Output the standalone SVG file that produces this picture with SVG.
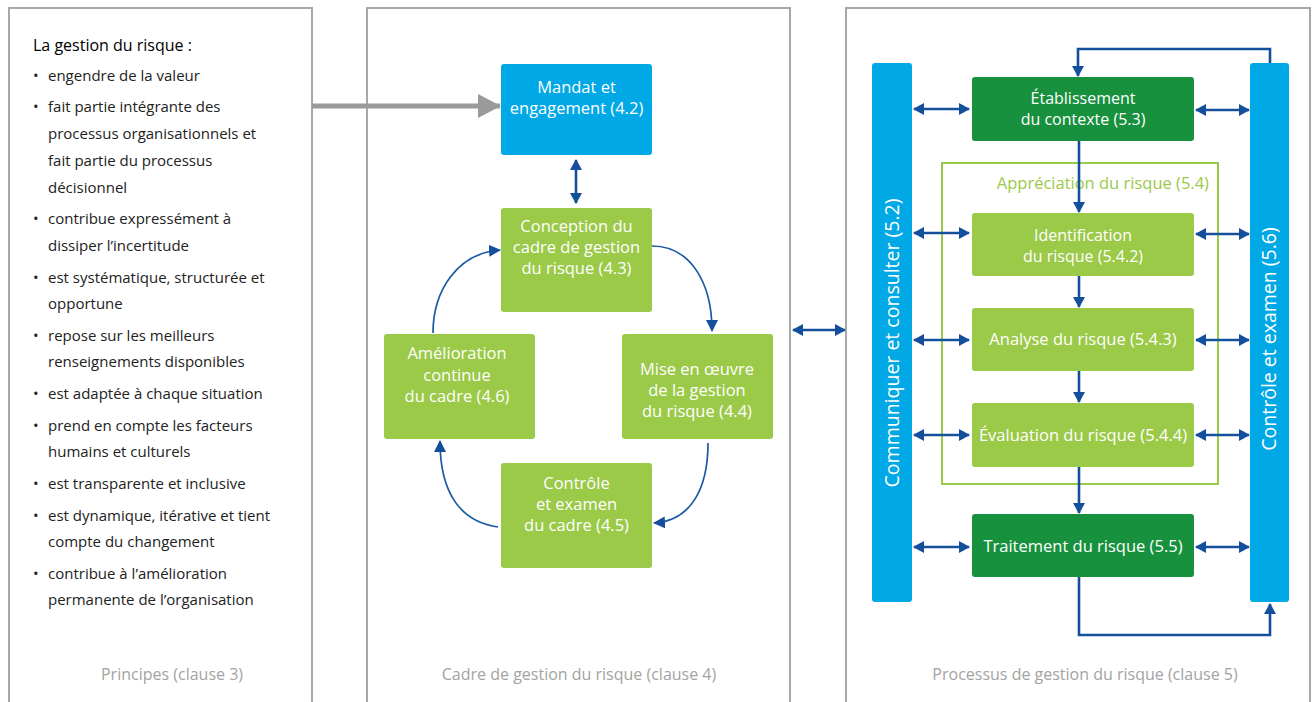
<svg xmlns="http://www.w3.org/2000/svg" width="1315" height="702" viewBox="0 0 1315 702">
<style>
.panel{fill:#fff;stroke:#a8a8a8;stroke-width:2}
.foot{font-family:"Open Sans","Noto Sans",sans-serif;font-size:16px;fill:#a3a3a3;text-anchor:middle}
.lt{font-family:"Open Sans","Noto Sans",sans-serif;font-size:15px;fill:#222}
.ttl{font-family:"Open Sans","Noto Sans",sans-serif;font-size:16px;fill:#000}
.bt{font-family:"Open Sans","Noto Sans",sans-serif;font-size:16.5px;fill:#fff;text-anchor:middle}
.bt2{font-family:"Open Sans","Noto Sans",sans-serif;font-size:16px;fill:#fff;text-anchor:middle}
.vt{font-family:"Open Sans","Noto Sans",sans-serif;font-size:19.5px;fill:#fff;text-anchor:middle}
.blue{fill:#00a8e6}
.lg{fill:#9bc948}
.dg{fill:#17913d}
.con{fill:none;stroke:#144f9c;stroke-width:2.6}
.cur{fill:none;stroke:#1a5aa4;stroke-width:1.7}
</style>
<defs>
<marker id="ah" markerUnits="userSpaceOnUse" markerWidth="11" markerHeight="12" refX="10" refY="6" orient="auto-start-reverse" viewBox="0 0 11 12">
<path d="M0,0 L11,6 L0,12 z" fill="#144f9c"/>
</marker>
<marker id="ahc" markerUnits="userSpaceOnUse" markerWidth="12" markerHeight="12" refX="11" refY="6" orient="auto" viewBox="0 0 12 12">
<path d="M0,0 L12,6 L0,12 z" fill="#144f9c"/>
</marker>
<marker id="ahg" markerUnits="userSpaceOnUse" markerWidth="23" markerHeight="24" refX="22" refY="12" orient="auto" viewBox="0 0 23 24">
<path d="M0,0 L23,12 L0,24 z" fill="#9a9a9a"/>
</marker>
</defs>

<g id="panels">
<path class="panel" d="M9,704 V8 H312 V704"/>
<path class="panel" d="M367,704 V8 H790 V704"/>
<path class="panel" d="M846,704 V8 H1310 V704"/>
</g>

<g id="principes">
<text class="ttl" x="33" y="51">La gestion du risque :</text>
<g class="lt">
<text x="33" y="81">•</text><text x="48" y="81">engendre de la valeur</text>
<text x="33" y="112">•</text><text x="48" y="112">fait partie intégrante des</text>
<text x="48" y="139">processus organisationnels et</text>
<text x="48" y="166">fait partie du processus</text>
<text x="48" y="193">décisionnel</text>
<text x="33" y="224">•</text><text x="48" y="224">contribue expressément à</text>
<text x="48" y="251">dissiper l’incertitude</text>
<text x="33" y="283">•</text><text x="48" y="283">est systématique, structurée et</text>
<text x="48" y="309">opportune</text>
<text x="33" y="341">•</text><text x="48" y="341">repose sur les meilleurs</text>
<text x="48" y="367">renseignements disponibles</text>
<text x="33" y="399">•</text><text x="48" y="399">est adaptée à chaque situation</text>
<text x="33" y="431">•</text><text x="48" y="431">prend en compte les facteurs</text>
<text x="48" y="457">humains et culturels</text>
<text x="33" y="489">•</text><text x="48" y="489">est transparente et inclusive</text>
<text x="33" y="521">•</text><text x="48" y="521">est dynamique, itérative et tient</text>
<text x="48" y="547">compte du changement</text>
<text x="33" y="579">•</text><text x="48" y="579">contribue à l’amélioration</text>
<text x="48" y="605">permanente de l’organisation</text>
</g>
<text class="foot" x="172" y="680">Principes (clause 3)</text>
</g>

<g id="cadre-label"><text class="foot" x="579" y="680">Cadre de gestion du risque (clause 4)</text></g>
<g id="processus-label"><text class="foot" x="1085" y="680">Processus de gestion du risque (clause 5)</text></g>

<g id="mandat">
<rect class="blue" x="501" y="64" width="151" height="91" rx="3"/>
<text class="bt" x="576.5" y="93">Mandat et</text>
<text class="bt" x="576.5" y="114">engagement (4.2)</text>
</g>
<g id="conception">
<rect class="lg" x="501" y="208" width="151" height="104" rx="3"/>
<text class="bt" x="576.5" y="232">Conception du</text>
<text class="bt" x="576.5" y="253">cadre de gestion</text>
<text class="bt" x="576.5" y="274">du risque (4.3)</text>
</g>
<g id="amelioration">
<rect class="lg" x="384" y="334" width="151" height="105" rx="3"/>
<text class="bt" x="457" y="359">Amélioration</text>
<text class="bt" x="457" y="381">continue</text>
<text class="bt" x="457" y="402">du cadre (4.6)</text>
</g>
<g id="mise">
<rect class="lg" x="622" y="334" width="151" height="105" rx="3"/>
<text class="bt" x="697" y="375">Mise en œuvre</text>
<text class="bt" x="697" y="396">de la gestion</text>
<text class="bt" x="697" y="417">du risque (4.4)</text>
</g>
<g id="controle">
<rect class="lg" x="501" y="463" width="151" height="105" rx="3"/>
<text class="bt" x="576.5" y="489">Contrôle</text>
<text class="bt" x="576.5" y="510">et examen</text>
<text class="bt" x="576.5" y="531">du cadre (4.5)</text>
</g>

<g id="communiquer">
<rect class="blue" x="872" y="63" width="40" height="539" rx="3"/>
<text class="vt" transform="translate(899,343) rotate(-90)">Communiquer et consulter (5.2)</text>
</g>
<g id="controle-examen">
<rect class="blue" x="1250" y="63" width="39" height="539" rx="3"/>
<text class="vt" transform="translate(1276,339) rotate(-90)">Contrôle et examen (5.6)</text>
</g>
<g id="appreciation">
<rect x="942" y="163" width="276" height="321" fill="none" stroke="#9bc948" stroke-width="2"/>
<text x="1209" y="189" font-family="'Open Sans','Noto Sans',sans-serif" font-size="16.5" fill="#9bc948" text-anchor="end">Appréciation du risque (5.4)</text>
</g>
<g id="etablissement">
<rect class="dg" x="972" y="77" width="222" height="64" rx="3"/>
<text class="bt2" x="1083" y="104">Établissement</text>
<text class="bt2" x="1083" y="125">du contexte (5.3)</text>
</g>
<g id="identification">
<rect class="lg" x="972" y="213" width="222" height="63" rx="3"/>
<text class="bt2" x="1083" y="241">Identification</text>
<text class="bt2" x="1083" y="262">du risque (5.4.2)</text>
</g>
<g id="analyse">
<rect class="lg" x="972" y="308" width="222" height="63" rx="3"/>
<text class="bt" x="1083" y="345">Analyse du risque (5.4.3)</text>
</g>
<g id="evaluation">
<rect class="lg" x="972" y="403" width="222" height="64" rx="3"/>
<text class="bt" x="1083" y="441">Évaluation du risque (5.4.4)</text>
</g>
<g id="traitement">
<rect class="dg" x="972" y="514" width="222" height="63" rx="3"/>
<text class="bt" x="1083" y="552">Traitement du risque (5.5)</text>
</g>

<g id="connectors">
<line x1="312" y1="106" x2="500" y2="106" stroke="#9a9a9a" stroke-width="5" marker-end="url(#ahg)"/>
<line class="con" x1="576" y1="160" x2="576" y2="203" marker-start="url(#ah)" marker-end="url(#ah)"/>
<path class="cur" d="M652,246 C690,246 712,282 712,331" marker-end="url(#ahc)"/>
<path class="cur" d="M708,443 C708,490 690,521 654,523" marker-end="url(#ahc)"/>
<path class="cur" d="M498,527 C462,522 440,495 440,441" marker-end="url(#ahc)"/>
<path class="cur" d="M433,333 C433,290 458,253 500,250" marker-end="url(#ahc)"/>
<line class="con" x1="793" y1="330" x2="845" y2="330" marker-start="url(#ah)" marker-end="url(#ah)"/>
<line class="con" x1="914" y1="109" x2="969" y2="109" marker-start="url(#ah)" marker-end="url(#ah)"/>
<line class="con" x1="914" y1="233" x2="969" y2="233" marker-start="url(#ah)" marker-end="url(#ah)"/>
<line class="con" x1="914" y1="340" x2="969" y2="340" marker-start="url(#ah)" marker-end="url(#ah)"/>
<line class="con" x1="914" y1="435" x2="969" y2="435" marker-start="url(#ah)" marker-end="url(#ah)"/>
<line class="con" x1="914" y1="547" x2="969" y2="547" marker-start="url(#ah)" marker-end="url(#ah)"/>
<line class="con" x1="1196" y1="110" x2="1249" y2="110" marker-start="url(#ah)" marker-end="url(#ah)"/>
<line class="con" x1="1196" y1="234" x2="1249" y2="234" marker-start="url(#ah)" marker-end="url(#ah)"/>
<line class="con" x1="1196" y1="340" x2="1249" y2="340" marker-start="url(#ah)" marker-end="url(#ah)"/>
<line class="con" x1="1196" y1="435" x2="1249" y2="435" marker-start="url(#ah)" marker-end="url(#ah)"/>
<line class="con" x1="1196" y1="547" x2="1249" y2="547" marker-start="url(#ah)" marker-end="url(#ah)"/>
<line class="con" x1="1079" y1="141" x2="1079" y2="212" marker-end="url(#ah)"/>
<line class="con" x1="1079" y1="276" x2="1079" y2="307" marker-end="url(#ah)"/>
<line class="con" x1="1079" y1="371" x2="1079" y2="402" marker-end="url(#ah)"/>
<line class="con" x1="1079" y1="467" x2="1079" y2="513" marker-end="url(#ah)"/>
<polyline class="con" points="1270,63 1270,49 1078,49 1078,76" marker-end="url(#ah)"/>
<polyline class="con" points="1079,577 1079,635 1270,635 1270,604" marker-end="url(#ah)"/>
</g>
</svg>
